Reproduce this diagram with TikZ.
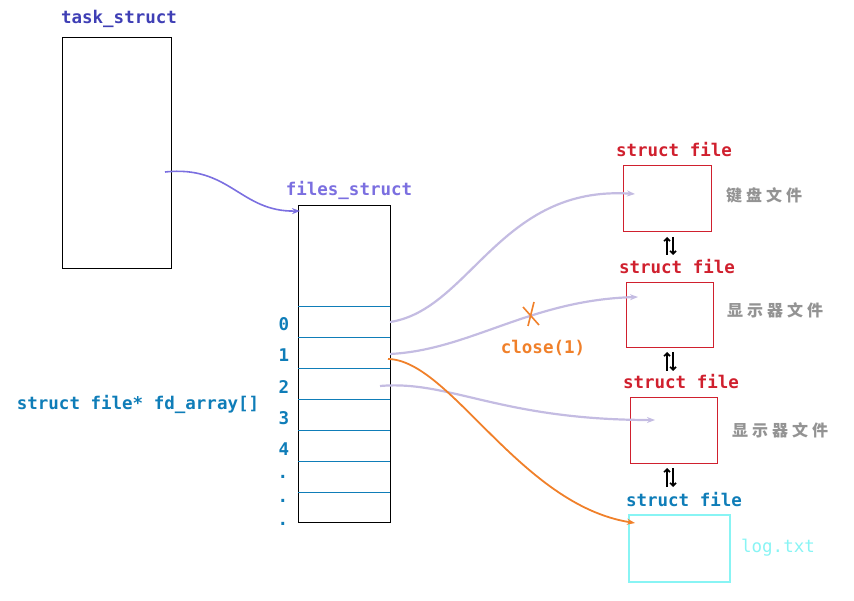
\documentclass[tikz,border=0pt]{standalone}
\usepackage{fontspec}
\setmonofont{DejaVu Sans Mono}
\newfontfamily\cjk[LetterSpace=25]{Noto Sans CJK SC}
\usetikzlibrary{arrows.meta}
\definecolor{tsk}{HTML}{3F3FB5}
\definecolor{fsc}{HTML}{7B6FE0}
\definecolor{idx}{HTML}{0F7DB8}
\definecolor{sfr}{HTML}{D0202E}
\definecolor{lav}{HTML}{C4BCE2}
\definecolor{org}{HTML}{F0802A}
\definecolor{cyn}{HTML}{88F4F4}
\tikzset{
 lbl/.style={font=\ttfamily\bfseries\fontsize{17.5}{20}\selectfont},
 cn/.style={font=\cjk\bfseries\fontsize{16}{18}\selectfont, text=gray!85},
 bx/.style={draw=sfr, thick},
 lavarr/.style={lav, line width=2.2pt, -{Stealth[length=8pt,width=6pt]}},
 dbl/.style={black, line width=1.6pt, -{Straight Barb[length=3pt]}},
}
\begin{document}
\begin{tikzpicture}[x=1pt,y=-1pt]
\useasboundingbox (0,0) rectangle (854,601);
\node[lbl, text=tsk] (tl) at (119,19) {task\_struct};
\draw (62,37) rectangle (171,268);
\coordinate (ts) at (165,172);
\node[lbl, text=fsc] (fl) at (349,190) {files\_struct};
\draw (298,205) rectangle (390,522);
\foreach \y in {306,337,368,399,430,461,492} \draw[idx] (298,\y) -- (390,\y);
\coordinate (fs) at (300,211);
\foreach \t/\y in {0/324,1/355,2/387,3/418,4/449} \node[lbl, text=idx] at (284,\y) {\t};
\foreach \y in {477,501,524} \node[lbl, text=idx] at (283,\y) {.};
\node[lbl, text=idx] (fd) at (138,404) {struct file* fd\_array[]};
% files
\node[lbl, text=sfr] (s1) at (674,150) {struct file};
\draw[bx] (623,165) rectangle (711,231);
\node[cn] (c1) at (764,195) {键盘文件};
\node[lbl, text=sfr] (s2) at (677,267) {struct file};
\draw[bx] (626,282) rectangle (713,347);
\node[cn] (c2) at (775,310) {显示器文件};
\node[lbl, text=sfr] (s3) at (681,382) {struct file};
\draw[bx] (630,397) rectangle (717,463);
\node[cn] (c3) at (780,430) {显示器文件};
\node[lbl, text=idx] (s4) at (684,500) {struct file};
\draw[cyn, line width=2pt] (629,515) rectangle (730,582);
\node[lbl, text=cyn, font=\ttfamily\fontsize{17.5}{20}\selectfont] (lg) at (778,548) {log.txt};
% double arrows
\foreach \a/\b in {237/255,352/371,468/487}{
 \draw[dbl] (667,\b) -- (667,\a);
 \draw[dbl] (673,\a) -- (673,\b);
}
% connectors
\draw[fsc, line width=1.6pt, -{Stealth[length=8pt,width=6pt]}] (ts) .. controls (230,165) and (240,212) .. (fs);
\coordinate (p0) at (390,322); \coordinate (t1) at (635,194);
\coordinate (p1) at (390,354); \coordinate (t2) at (638,297);
\coordinate (p2) at (380,386); \coordinate (t3) at (655,420);
\coordinate (p1b) at (388,359); \coordinate (t4) at (635,523);
\draw[lavarr] (p0) .. controls (470,310) and (500,185) .. (t1);
\draw[lavarr] (p1) .. controls (470,350) and (530,300) .. (t2);
\draw[lavarr] (p2) .. controls (450,380) and (500,420) .. (t3);
\draw[org, line width=1.8pt, -{Stealth[length=8pt,width=6pt]}] (p1b) .. controls (450,360) and (520,505) .. (t4);
\draw[org, line width=1.6pt] (523,307) -- (539,325) (534,302) -- (528,326);
\node[lbl, text=org] (cl) at (543,348) {close(1)};
\end{tikzpicture}
\end{document}
